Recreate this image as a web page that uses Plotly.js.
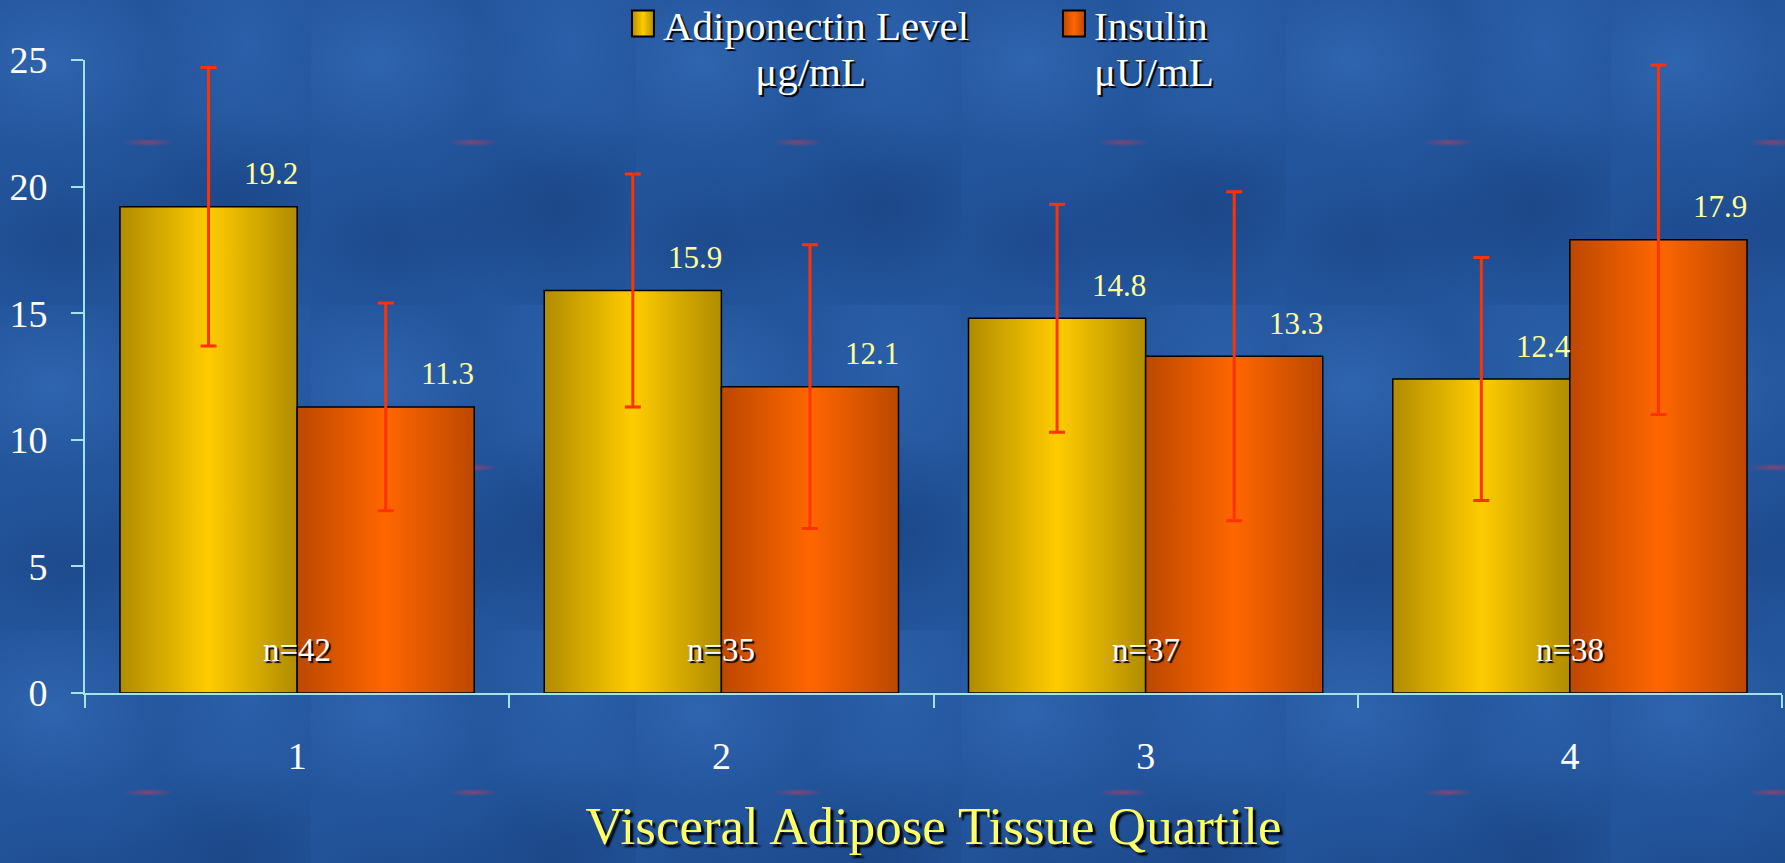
<!DOCTYPE html>
<html><head><meta charset="utf-8">
<script src="https://cdn.plot.ly/plotly-3.0.1.min.js"></script>
<style>
html,body{margin:0;padding:0;overflow:hidden;}
body{width:1785px;height:863px;background-color:#23559c;
background-image:
 radial-gradient(ellipse 26px 4px at 50% 50%, rgba(200,60,90,0.55), rgba(200,60,90,0) 100%),
 radial-gradient(ellipse 120px 90px at 20% 25%, rgba(70,130,210,0.35), rgba(70,130,210,0)),
 radial-gradient(ellipse 140px 100px at 75% 70%, rgba(15,45,100,0.35), rgba(15,45,100,0)),
 radial-gradient(ellipse 100px 140px at 80% 20%, rgba(60,120,200,0.3), rgba(60,120,200,0)),
 radial-gradient(ellipse 130px 80px at 25% 80%, rgba(20,50,110,0.3), rgba(20,50,110,0));
background-size:325px 325px;
background-position:-14px -20px;
}
#chart{width:1785px;height:863px;}
.errorbars path{filter:drop-shadow(2px 2px 0 #000);}
</style></head>
<body>
<div id="chart"></div>
<script>
const categories = ['1', '2', '3', '4'];
const adiponectin = [19.2, 15.9, 14.8, 12.4];
const insulin = [11.3, 12.1, 13.3, 17.9];
const adiponectinSD = [5.5, 4.6, 4.5, 4.8];
const insulinSD = [4.1, 5.6, 6.5, 6.9];
const sampleSizes = ['n=42', 'n=35', 'n=37', 'n=38'];
const seriesNames = ['Adiponectin Level<br>\u00a0\u00a0\u00a0\u00a0\u00a0\u00a0\u00a0\u00a0\u00a0μg/mL', 'Insulin<br>μU/mL'];
const xTitle = 'Visceral Adipose Tissue Quartile';

const FONT = '"Liberation Serif", "Times New Roman", serif';
const AXIS = '#A0E4F0';
const ERR = '#FF3300';
const bargap = 0.165;
const halfBar = (1 - bargap) / 4;

const errStyle = {type: 'data', symmetric: true, color: ERR, thickness: 3, width: 8};
const traces = [
  {type: 'bar', name: seriesNames[0], x: categories, y: adiponectin,
   marker: {color: '#FFCC00', line: {color: '#000', width: 1.5}},
   error_y: Object.assign({array: adiponectinSD}, errStyle), hoverinfo: 'none'},
  {type: 'bar', name: seriesNames[1], x: categories, y: insulin,
   marker: {color: '#FF6600', line: {color: '#000', width: 1.5}},
   error_y: Object.assign({array: insulinSD}, errStyle), hoverinfo: 'none'}
];

const annotations = [];
categories.forEach((c, i) => {
  annotations.push({x: i - halfBar, y: adiponectin[i], xref: 'x', yref: 'y', text: adiponectin[i].toFixed(1),
    showarrow: false, xshift: 62, yshift: 33, font: {family: FONT, size: 31, color: '#FFFF99'}});
  annotations.push({x: i + halfBar, y: insulin[i], xref: 'x', yref: 'y', text: insulin[i].toFixed(1),
    showarrow: false, xshift: 62, yshift: 33, font: {family: FONT, size: 31, color: '#FFFF99'}});
  annotations.push({x: i, y: 0, xref: 'x', yref: 'y', text: sampleSizes[i], showarrow: false, yshift: 43,
    font: {family: FONT, size: 33, color: '#FFFFFF', shadow: '2px 2px 1px #000'}});
});

const layout = {
  width: 1785, height: 863,
  margin: {l: 85, r: 3, t: 60, b: 170, autoexpand: false},
  paper_bgcolor: 'rgba(0,0,0,0)', plot_bgcolor: 'rgba(0,0,0,0)',
  barmode: 'group', bargap: bargap, bargroupgap: 0,
  font: {family: FONT, color: '#FFFFFF'},
  showlegend: true,
  legend: {orientation: 'h', x: 0.317, y: 1.11, xanchor: 'left', yanchor: 'top',
    entrywidth: 386, entrywidthmode: 'pixels', valign: 'top', bgcolor: 'rgba(0,0,0,0)',
    font: {family: FONT, size: 41, color: '#FFFFFF', shadow: '2px 2px 1px #000'}},
  xaxis: {type: 'category', tickson: 'boundaries', ticks: 'outside', ticklen: 13, tickwidth: 2,
    tickcolor: AXIS, showline: true, linecolor: AXIS, linewidth: 2, showgrid: false,
    tickfont: {family: FONT, size: 38, color: '#FFFFFF'}, ticklabelstandoff: 28,
    title: {text: xTitle, standoff: 31, font: {family: FONT, size: 53, color: '#FFFF66', shadow: '3px 3px 2px #000'}}},
  yaxis: {range: [0, 25], dtick: 5, ticks: 'outside', ticklen: 12, tickwidth: 2, tickcolor: AXIS,
    showline: true, linecolor: AXIS, linewidth: 2, showgrid: false, zeroline: false,
    tickfont: {family: FONT, size: 38, color: '#FFFFFF'}, ticklabelstandoff: 16},
  annotations: annotations
};

function addGrad(defs, id, edge, mid) {
  const ns = 'http://www.w3.org/2000/svg';
  const g = document.createElementNS(ns, 'linearGradient');
  g.setAttribute('id', id);
  g.setAttribute('x1', '0'); g.setAttribute('x2', '1'); g.setAttribute('y1', '0'); g.setAttribute('y2', '0');
  [[0, edge], [0.5, mid], [1, edge]].forEach(([o, c]) => {
    const s = document.createElementNS(ns, 'stop');
    s.setAttribute('offset', o); s.setAttribute('stop-color', c);
    g.appendChild(s);
  });
  defs.appendChild(g);
}

Plotly.newPlot('chart', traces, layout, {displayModeBar: false, staticPlot: true}).then(() => {
  const svg = document.querySelector('#chart .main-svg');
  let defs = svg.querySelector('defs');
  addGrad(defs, 'gradY', '#B08C00', '#FFCC00');
  addGrad(defs, 'gradO', '#BC4800', '#FF6600');
  const ids = ['url(#gradY)', 'url(#gradO)'];
  document.querySelectorAll('#chart .barlayer .trace').forEach((t, i) => {
    t.querySelectorAll('.point path').forEach(p => { p.style.fill = ids[i]; });
  });
  document.querySelectorAll('#chart .legend .traces').forEach((t, i) => {
    t.querySelectorAll('.legendpoints path').forEach(p => {
      p.setAttribute('d', 'M-11,-13H11V13H-11Z');
      p.style.fill = ids[i]; p.style.stroke = '#000'; p.style.strokeWidth = '2px';
    });
    t.querySelectorAll('.legendtext tspan.line').forEach((ts, k) => {
      if (k > 0) ts.setAttribute('dy', '1.13em');
    });
  });
});
</script>
</body></html>
